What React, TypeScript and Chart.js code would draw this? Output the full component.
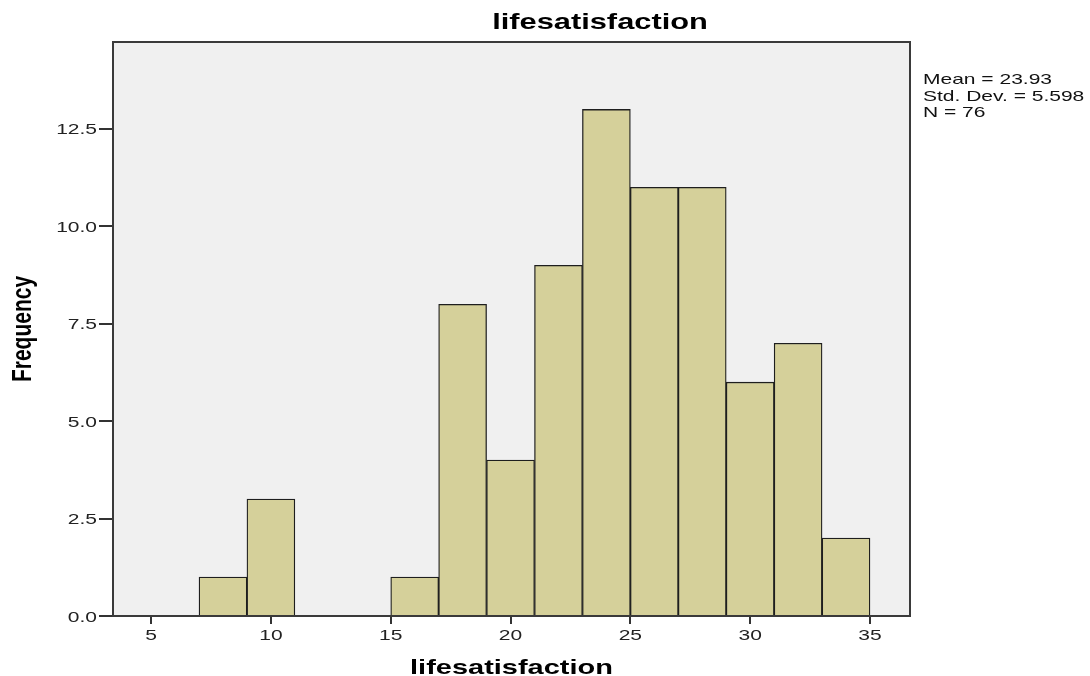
import React, { useEffect, useRef } from 'react';
import { Chart, registerables } from 'chart.js';
Chart.register(...registerables);

const binCenters = [8, 10, 16, 18, 20, 22, 24, 26, 28, 30, 32, 34];
const frequencies = [1, 3, 1, 8, 4, 9, 13, 11, 11, 6, 7, 2];
const xTicks = [5, 10, 15, 20, 25, 30, 35];
const yTicks = [0, 2.5, 5, 7.5, 10, 12.5];
const chartTitle = 'lifesatisfaction';
const xTitle = 'lifesatisfaction';
const yTitle = 'Frequency';
const statsLines = ['Mean = 23.93', 'Std. Dev. = 5.598', 'N = 76'];

const FONT = 'Arial, "Liberation Sans", Helvetica, sans-serif';
const STRETCH = 1.4;

function stretchedText(ctx: any, text: string, x: number, y: number, sx: number) {
  ctx.save();
  ctx.translate(x, y);
  ctx.scale(sx, 1);
  ctx.fillText(text, 0, 0);
  ctx.restore();
}

const framePlugin = {
  id: 'spssFrame',
  beforeDraw(chart: any) {
    const { ctx, chartArea: a } = chart;
    ctx.save();
    ctx.fillStyle = '#f0f0f0';
    ctx.fillRect(a.left, a.top, a.right - a.left, a.bottom - a.top);
    ctx.restore();
  },
  afterDraw(chart: any) {
    const { ctx, chartArea: a } = chart;
    const xs = chart.scales.x;
    const ys = chart.scales.y;
    ctx.save();
    ctx.strokeStyle = '#3a3a3a';
    ctx.lineWidth = 2;
    ctx.strokeRect(a.left, a.top, a.right - a.left, a.bottom - a.top);

    // tick labels
    ctx.fillStyle = '#222';
    ctx.font = `15px ${FONT}`;
    ctx.textBaseline = 'alphabetic';
    ctx.textAlign = 'right';
    yTicks.forEach((v) => stretchedText(ctx, v.toFixed(1), a.left - 16, ys.getPixelForValue(v) + 5.5, STRETCH));
    ctx.textAlign = 'center';
    xTicks.forEach((v) => stretchedText(ctx, String(v), xs.getPixelForValue(v), 640, STRETCH));

    // titles
    ctx.fillStyle = '#000';
    ctx.font = `bold 22px ${FONT}`;
    ctx.textAlign = 'center';
    stretchedText(ctx, chartTitle, 600, 29, STRETCH);
    ctx.font = `bold 21px ${FONT}`;
    stretchedText(ctx, xTitle, (a.left + a.right) / 2, 674, 1.38);

    ctx.save();
    ctx.translate(23.5, (a.top + a.bottom) / 2);
    ctx.rotate(-Math.PI / 2);
    ctx.scale(1, 1.35);
    ctx.font = `bold 21px ${FONT}`;
    ctx.textBaseline = 'middle';
    ctx.fillText(yTitle, 0, 0);
    ctx.restore();

    // stats
    ctx.font = `15px ${FONT}`;
    ctx.textAlign = 'left';
    ctx.textBaseline = 'alphabetic';
    ctx.fillStyle = '#111';
    statsLines.forEach((s, i) => stretchedText(ctx, s, 923, 84 + i * 16.5, STRETCH));
    ctx.restore();
  },
};

export default function App() {
  const ref = useRef<HTMLCanvasElement | null>(null);
  useEffect(() => {
    if (!ref.current) return;
    const chart = new Chart(ref.current, {
      type: 'bar',
      data: {
        datasets: [
          {
            data: binCenters.map((x, i) => ({ x, y: frequencies[i] })),
            backgroundColor: '#d5d09a',
            borderColor: '#1e1e1e',
            borderWidth: 1.3,
            barPercentage: 1,
            categoryPercentage: 1,
          } as any,
        ],
      },
      options: {
        responsive: false,
        animation: false,
        devicePixelRatio: 1,
        layout: { padding: { left: 0, top: 42, right: 180, bottom: 0 } },
        plugins: { legend: { display: false }, tooltip: { enabled: false }, title: { display: false } },
        scales: {
          x: {
            type: 'linear',
            offset: false,
            min: 3.41,
            max: 36.67,
            afterBuildTicks: (s: any) => {
              s.ticks = xTicks.map((v) => ({ value: v }));
            },
            afterFit: (s: any) => {
              s.height = 60;
            },
            grid: { display: true, offset: false, drawOnChartArea: false, drawTicks: true, tickLength: 8, color: '#333', lineWidth: 2 },
            border: { display: false },
            ticks: { display: false },
          },
          y: {
            type: 'linear',
            min: 0,
            max: 14.73,
            afterBuildTicks: (s: any) => {
              s.ticks = yTicks.map((v) => ({ value: v }));
            },
            afterFit: (s: any) => {
              s.width = 113;
            },
            grid: { display: true, drawOnChartArea: false, drawTicks: true, tickLength: 14, color: '#333', lineWidth: 2 },
            border: { display: false },
            ticks: { display: false },
          },
        },
      },
      plugins: [framePlugin],
    });
    return () => chart.destroy();
  }, []);
  return (
    <div style={{ position: 'fixed', left: 0, top: 0, width: 1090, height: 676, background: '#fff' }}>
      <canvas ref={ref} width={1090} height={676} style={{ width: 1090, height: 676, display: 'block' }} />
    </div>
  );
}
